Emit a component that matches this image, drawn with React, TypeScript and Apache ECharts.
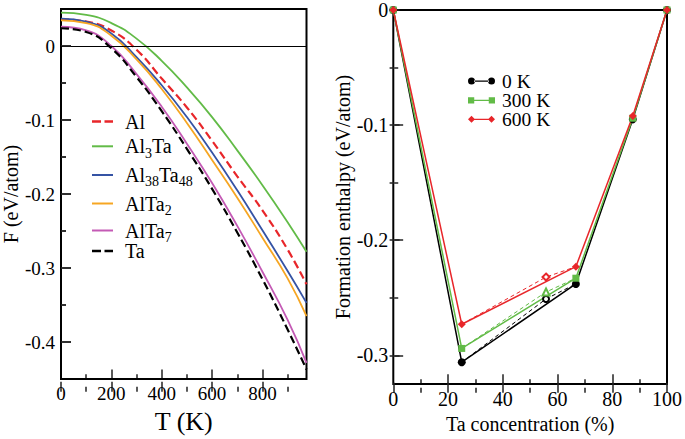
import React, { useEffect, useRef } from "react";
import * as echarts from "echarts";

// ---------- Left panel data: free energy F(T) ----------
const tempK = [0, 100, 200, 300, 400, 500, 600, 700, 800, 900, 975];
const fAl = [0.036, 0.033, 0.021, -0.005, -0.044, -0.083, -0.128, -0.176, -0.222, -0.275, -0.322];
const fAl3Ta = [0.045, 0.042, 0.031, 0.010, -0.020, -0.056, -0.096, -0.141, -0.188, -0.238, -0.278];
const fAl38Ta48 = [0.037, 0.033, 0.017, -0.015, -0.053, -0.096, -0.144, -0.195, -0.249, -0.304, -0.347];
const fAlTa2 = [0.0345, 0.031, 0.014, -0.018, -0.058, -0.104, -0.154, -0.205, -0.259, -0.314, -0.365];
const fAlTa7 = [0.026, 0.021, 0.0, -0.038, -0.082, -0.132, -0.185, -0.243, -0.305, -0.37, -0.428];
const fTa = [0.024, 0.019, -0.003, -0.042, -0.088, -0.139, -0.193, -0.252, -0.315, -0.383, -0.437];

const leftXRange = [0, 975];
const leftYRange = [-0.45, 0.05];
const leftXMajor = [0, 200, 400, 600, 800];
const leftXMinor = [100, 300, 500, 700, 900];
const leftYMajor = [0, -0.1, -0.2, -0.3, -0.4];
const leftYMinor = [-0.05, -0.15, -0.25, -0.35];

// ---------- Right panel data: formation enthalpy ----------
const taConc = [0, 25, 66.7, 87.5, 100];
const h0K = [0, -0.306, -0.238, -0.095, 0];
const h300K = [0, -0.294, -0.233, -0.094, 0];
const h600K = [0, -0.273, -0.223, -0.092, 0];
const dashConc = [25, 55.8, 66.7];
const d0K = [-0.306, -0.251, -0.238];
const d300K = [-0.294, -0.245, -0.233];
const d600K = [-0.273, -0.232, -0.223];

const rightXRange = [0, 100];
const rightYRange = [-0.325, 0];
const rightXMajor = [0, 20, 40, 60, 80, 100];
const rightXMinor = [10, 30, 50, 70, 90];
const rightYMajor = [0, -0.1, -0.2, -0.3];
const rightYMinor = [-0.05, -0.15, -0.25];

const serif = "'Liberation Serif', 'Times New Roman', serif";
const C = {
  red: "#e8262a",
  green: "#62bb47",
  blue: "#3553a4",
  orange: "#f6a623",
  magenta: "#c45ab5",
  black: "#000000",
};

// layout (pixels)
const W = 685;
const H = 439;
const G0 = { left: 61, right: 378.5, top: 9, bottom: 47.3 };
const G1 = { left: 393.3, right: 14.3, top: 9, bottom: 47.3 };
const gW = (g: typeof G0) => W - g.left - g.right;
const gH = (g: typeof G0) => H - g.top - g.bottom;

const pairs = (xs: number[], ys: number[]) => xs.map((x, i) => [x, ys[i]]);

const tickColor = "#222";

const ICON_SOLID = "path://M0,0h21v2h-21z";
const ICON_DASH = "path://M0,0h9v2.4h-9zM12.5,0h8.5v2.4h-8.5z";
const ICON_CIRC =
  "path://M0,3.5a3.5,3.5 0 1,0 7,0a3.5,3.5 0 1,0 -7,0zM20,3.5a3.5,3.5 0 1,0 7,0a3.5,3.5 0 1,0 -7,0zM6,2.9h15v1.3h-15z";
const ICON_SQ = "path://M0.5,0.5h6v6h-6zM20.5,0.5h6v6h-6zM6,2.9h15v1.3h-15z";
const ICON_DIA =
  "path://M0,3.5l3.5,-3.5l3.5,3.5l-3.5,3.5zM20,3.5l3.5,-3.5l3.5,3.5l-3.5,3.5zM6,2.9h15v1.3h-15z";

const leftRich = {
  a: { fontSize: 20, fontFamily: serif, color: "#000", lineHeight: 22, padding: [0, 0, 0, 7] },
  n: { fontSize: 20, fontFamily: serif, color: "#000", lineHeight: 22 },
  s: { fontSize: 14, fontFamily: serif, color: "#000", lineHeight: 22, padding: [14, 0, 0, 0] },
};
const rightRich = {
  a: { fontSize: 19.5, fontFamily: serif, color: "#000", lineHeight: 18, padding: [0, 0, 0, 2] },
};

function leftLegend(name: string, fmt: string, top: number, icon: string) {
  return {
    data: [{ name, icon }],
    left: 92,
    top,
    padding: 0,
    orient: "vertical",
    itemWidth: 21,
    itemHeight: 2.4,
    itemStyle: { borderWidth: 0 },
    formatter: () => fmt,
    textStyle: { rich: leftRich },
    selectedMode: false,
  };
}
function rightLegend(name: string, top: number, icon: string) {
  return {
    data: [{ name, icon }],
    left: 468,
    top,
    padding: 0,
    orient: "vertical",
    itemWidth: 27,
    itemHeight: 7,
    itemStyle: { borderWidth: 0 },
    formatter: (n: string) => `{a|${n}}`,
    textStyle: { rich: rightRich },
    selectedMode: false,
  };
}

const labelStyle = (size: number) => ({ color: "#000", fontFamily: serif, fontSize: size });
const fmtVal = (v: number) => (Math.abs(v) < 1e-9 ? "0" : String(Math.round(v * 1000) / 1000));

function valAxis(opts: {
  gridIndex: number;
  position: string;
  range: number[];
  labels: number[];
  labelSize: number;
  labelMargin: number;
  name: string;
  nameGap: number;
  nameSize: number;
}) {
  return {
    type: "value",
    gridIndex: opts.gridIndex,
    position: opts.position,
    min: opts.range[0],
    max: opts.range[1],
    axisLine: { show: false, onZero: false },
    axisTick: { show: false },
    axisLabel: {
      show: true,
      customValues: opts.labels,
      margin: opts.labelMargin,
      ...labelStyle(opts.labelSize),
      formatter: fmtVal,
    },
    splitLine: { show: false },
    name: opts.name,
    nameLocation: "middle",
    nameGap: opts.nameGap,
    nameTextStyle: { color: "#000", fontFamily: serif, fontSize: opts.nameSize },
  };
}

// Tick-only axis placed on the opposite side and shifted onto the bottom/left edge,
// with its ticks pointing into the plot.
function tickOnlyAxis(gridIndex: number, position: string, offset: number, range: number[], ticks: number[], len: number) {
  return {
    type: "value",
    gridIndex,
    position,
    offset,
    min: range[0],
    max: range[1],
    axisLine: { show: false, onZero: false },
    axisTick: { show: true, inside: false, length: len, customValues: ticks, lineStyle: { color: tickColor, width: 1.5 } },
    axisLabel: { show: false },
    splitLine: { show: false },
  };
}

// Tick marks as markLine segments, placed through the axes' scales.
function tickMarks(
  g: { left: number; right: number; top: number; bottom: number },
  xr: number[],
  yr: number[],
  xMaj: number[],
  xMin: number[],
  yMaj: number[],
  yMin: number[]
) {
  const dxPerPx = (xr[1] - xr[0]) / gW(g);
  const dyPerPx = (yr[1] - yr[0]) / gH(g);
  const xt = (v: number, len: number) => [{ coord: [v, yr[0] + 1.2 * dyPerPx] }, { coord: [v, yr[0] + len * dyPerPx] }];
  const yt = (v: number, len: number) => [{ coord: [xr[0] + 1.2 * dxPerPx, v] }, { coord: [xr[0] + len * dxPerPx, v] }];
  return [
    ...xMaj.filter((v) => v > xr[0] && v < xr[1]).map((v) => xt(v, 10)),
    ...xMin.map((v) => xt(v, 5)),
    ...yMaj.filter((v) => v > yr[0] && v < yr[1]).map((v) => yt(v, 10)),
    ...yMin.map((v) => yt(v, 5)),
  ];
}

const tickMarkLine = (data: any[]) => ({
  silent: true,
  symbol: ["none", "none"],
  label: { show: false },
  lineStyle: { color: tickColor, width: 1.5, type: "solid" },
  emphasis: { disabled: true },
  data,
});

export default function App() {
  const ref = useRef<HTMLDivElement>(null);
  useEffect(() => {
    document.body.style.margin = "0";
    if (!ref.current) return;
    const chart = echarts.init(ref.current, undefined, { renderer: "svg" });

    const leftLine = (name: string, ys: number[], color: string, dashed: boolean, extra: any = {}) => ({
      name,
      type: "line",
      xAxisIndex: 0,
      yAxisIndex: 0,
      data: pairs(tempK, ys),
      symbol: "none",
      smooth: 0.5,
      lineStyle: { color, width: dashed ? 2.2 : 1.8, type: dashed ? [8, 4] : "solid" },
      itemStyle: { color },
      ...extra,
    });

    const rightLine = (name: string, ys: number[], color: string, symbol: string, size: number, extra: any = {}) => ({
      name,
      type: "line",
      xAxisIndex: 1,
      yAxisIndex: 1,
      data: pairs(taConc, ys),
      symbol,
      symbolSize: size,
      clip: false,
      lineStyle: { color, width: 1.5 },
      itemStyle: { color },
      ...extra,
    });

    const rightDash = (ys: number[], color: string, symbol: string, size: number) => ({
      type: "line",
      xAxisIndex: 1,
      yAxisIndex: 1,
      data: pairs(dashConc, ys).map((p, i) => (i === 1 ? { value: p } : { value: p, symbol: "none" })),
      symbol,
      symbolSize: size,
      lineStyle: { color, width: 1, type: [4, 3] },
      itemStyle: { color, borderWidth: 1 },
    });

    const option: any = {
      animation: false,
      textStyle: { fontFamily: serif },
      grid: [
        { ...G0, show: true, borderColor: "#000", borderWidth: 2, backgroundColor: "rgba(0,0,0,0)" },
        { ...G1, show: true, borderColor: "#000", borderWidth: 2, backgroundColor: "rgba(0,0,0,0)" },
      ],
      xAxis: [
        valAxis({ gridIndex: 0, position: "bottom", range: leftXRange, labels: leftXMajor, labelSize: 19, labelMargin: 5, name: "T (K)", nameGap: 22, nameSize: 26 }),
        valAxis({ gridIndex: 1, position: "bottom", range: rightXRange, labels: rightXMajor, labelSize: 20, labelMargin: 5, name: "Ta concentration (%)", nameGap: 21, nameSize: 20 }),
        tickOnlyAxis(0, "top", -gH(G0), leftXRange, leftXMajor, 10),
        tickOnlyAxis(0, "top", -gH(G0), leftXRange, leftXMinor, 5),
        tickOnlyAxis(1, "top", -gH(G1), rightXRange, rightXMajor, 10),
        tickOnlyAxis(1, "top", -gH(G1), rightXRange, rightXMinor, 5),
      ],
      yAxis: [
        valAxis({ gridIndex: 0, position: "left", range: leftYRange, labels: leftYMajor, labelSize: 19, labelMargin: 6, name: "F (eV/atom)", nameGap: 36, nameSize: 20 }),
        valAxis({ gridIndex: 1, position: "left", range: rightYRange, labels: rightYMajor, labelSize: 20, labelMargin: 5, name: "Formation enthalpy (eV/atom)", nameGap: 37, nameSize: 20 }),
        tickOnlyAxis(0, "right", -gW(G0), leftYRange, leftYMajor, 10),
        tickOnlyAxis(0, "right", -gW(G0), leftYRange, leftYMinor, 5),
        tickOnlyAxis(1, "right", -gW(G1), rightYRange, rightYMajor, 10),
        tickOnlyAxis(1, "right", -gW(G1), rightYRange, rightYMinor, 5),
      ],
      legend: [
        leftLegend("Al", "{a|Al}", 111.5, ICON_DASH),
        leftLegend("Al3Ta", "{a|Al}{s|3}{n|Ta}", 132.3, ICON_SOLID),
        leftLegend("Al38Ta48", "{a|Al}{s|38}{n|Ta}{s|48}", 161, ICON_SOLID),
        leftLegend("AlTa2", "{a|AlTa}{s|2}", 189.5, ICON_SOLID),
        leftLegend("AlTa7", "{a|AlTa}{s|7}", 216.5, ICON_SOLID),
        leftLegend("Ta", "{a|Ta}", 241, ICON_DASH),
        rightLegend("0 K", 71, ICON_CIRC),
        rightLegend("300 K", 90.3, ICON_SQ),
        rightLegend("600 K", 109.3, ICON_DIA),
      ],
      series: [
        leftLine("Al", fAl, C.red, true, {
          markLine: {
            silent: true,
            symbol: ["none", "none"],
            label: { show: false },
            lineStyle: { color: "#000", width: 1.2, type: "solid" },
            data: [{ yAxis: 0 }],
          },
        }),
        leftLine("Al3Ta", fAl3Ta, C.green, false),
        leftLine("Al38Ta48", fAl38Ta48, C.blue, false, {
          markLine: tickMarkLine(tickMarks(G0, leftXRange, leftYRange, leftXMajor, leftXMinor, leftYMajor, leftYMinor)),
        }),
        leftLine("AlTa2", fAlTa2, C.orange, false),
        leftLine("AlTa7", fAlTa7, C.magenta, false),
        leftLine("Ta", fTa, C.black, true),
        rightDash(d0K, C.black, "emptyCircle", 6),
        rightDash(d300K, C.green, "emptyTriangle", 7),
        rightDash(d600K, C.red, "emptyDiamond", 7),
        rightLine("0 K", h0K, C.black, "circle", 8, {
          markLine: tickMarkLine(tickMarks(G1, rightXRange, rightYRange, rightXMajor, rightXMinor, rightYMajor, rightYMinor)),
        }),
        rightLine("300 K", h300K, C.green, "rect", 7),
        rightLine("600 K", h600K, C.red, "diamond", 8),
      ],
    };
    chart.setOption(option);
    return () => chart.dispose();
  }, []);
  return <div ref={ref} style={{ width: W, height: H }} />;
}
